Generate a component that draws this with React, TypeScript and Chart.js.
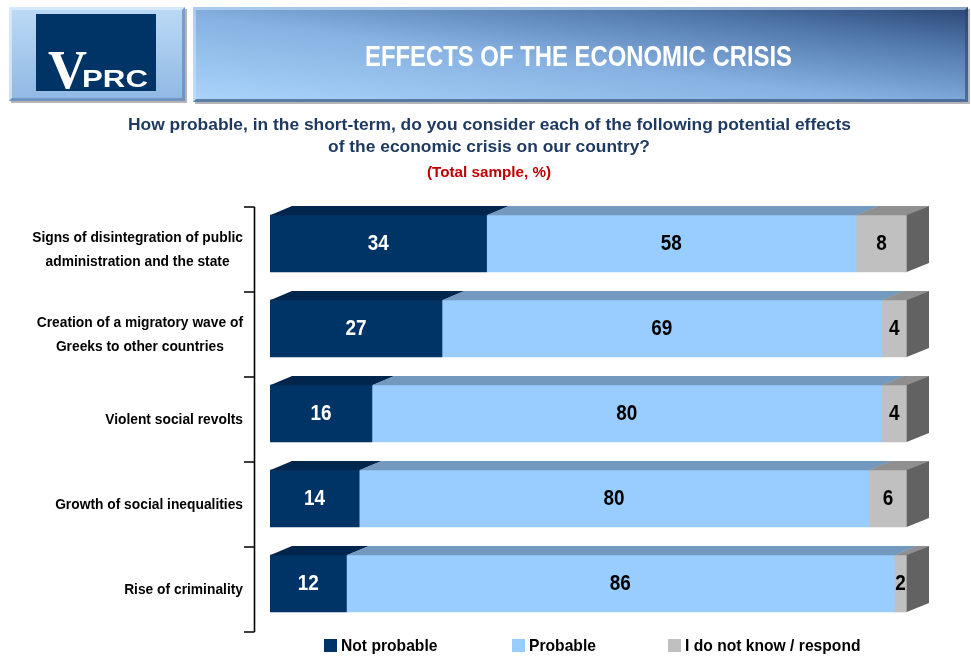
import React, { useEffect, useRef } from 'react';
import { Chart, registerables } from 'chart.js';

Chart.register(...registerables);

// ---------- data ----------
const categories: string[][] = [
  ['Signs of disintegration of public', 'administration and the state'],
  ['Creation of a migratory wave of', 'Greeks to other countries'],
  ['Violent social revolts'],
  ['Growth of social inequalities'],
  ['Rise of criminality'],
];
const notProbable = [34, 27, 16, 14, 12];
const probable = [58, 69, 80, 80, 86];
const dontKnow = [8, 4, 4, 6, 2];
const seriesNames = ['Not probable', 'Probable', 'I do not know / respond'];

const headerTitle = 'EFFECTS OF THE ECONOMIC CRISIS';
const questionLines = [
  'How probable, in the short-term, do you consider each of the following potential effects',
  'of the economic crisis on our country?',
];
const sampleNote = '(Total sample, %)';

// ---------- styles ----------
const frontColors = ['#003366', '#99CCFF', '#C0C0C0'];
const topColors = ['#00264D', '#7399BF', '#8F8F8F'];
const sideColor = '#626262';
const valueColors = ['#FFFFFF', '#000000', '#000000'];
const SANS = "'Liberation Sans', Arial, Helvetica, sans-serif";

const DX = 22;
const DY = 9;
const SHIFT = 6; // axis band shift caused by 3D depth

function narrowWidth(ctx: CanvasRenderingContext2D, text: string, size: number, sq: number) {
  ctx.font = `bold ${size}px ${SANS}`;
  return ctx.measureText(text).width * sq;
}

function drawNarrow(
  ctx: CanvasRenderingContext2D,
  text: string,
  x: number,
  y: number,
  align: 'left' | 'center' | 'right',
  size: number,
  color: string,
  sq: number,
) {
  const w = narrowWidth(ctx, text, size, sq);
  const left = align === 'left' ? x : align === 'center' ? x - w / 2 : x - w;
  ctx.save();
  ctx.translate(left, y);
  ctx.scale(sq, 1);
  ctx.font = `bold ${size}px ${SANS}`;
  ctx.textAlign = 'left';
  ctx.textBaseline = 'middle';
  ctx.fillStyle = color;
  ctx.fillText(text, 0, 0);
  ctx.restore();
}

const threeD = {
  id: 'threeD',
  afterDatasetsDraw(chart: any) {
    const { ctx } = chart;
    const yScale = chart.scales.y;
    const nSeries = chart.data.datasets.length;
    ctx.save();
    // 3D faces
    for (let d = 0; d < nSeries; d++) {
      const meta = chart.getDatasetMeta(d);
      meta.data.forEach((bar: any) => {
        const { x, y, base, height } = bar.getProps(['x', 'y', 'base', 'height'], true);
        const top = y - height / 2;
        const bottom = y + height / 2;
        const x0 = Math.min(x, base);
        const x1 = Math.max(x, base);
        const ext = d < nSeries - 1 ? 0.6 : 0;
        ctx.fillStyle = topColors[d];
        ctx.beginPath();
        ctx.moveTo(x0, top + 0.3);
        ctx.lineTo(x0 + DX, top - DY);
        ctx.lineTo(x1 + DX + ext, top - DY);
        ctx.lineTo(x1 + ext, top + 0.3);
        ctx.closePath();
        ctx.fill();
        if (d === nSeries - 1) {
          ctx.fillStyle = sideColor;
          ctx.beginPath();
          ctx.moveTo(x1 - 0.3, top);
          ctx.lineTo(x1 + DX, top - DY);
          ctx.lineTo(x1 + DX, bottom - DY);
          ctx.lineTo(x1 - 0.3, bottom);
          ctx.closePath();
          ctx.fill();
        }
      });
    }
    // value labels
    for (let d = 0; d < nSeries; d++) {
      const meta = chart.getDatasetMeta(d);
      const ds = chart.data.datasets[d];
      meta.data.forEach((bar: any, i: number) => {
        const { x, y, base } = bar.getProps(['x', 'y', 'base'], true);
        drawNarrow(ctx, String(ds.data[i]), (x + base) / 2, y + 0.5, 'center', 22, valueColors[d], 0.86);
      });
    }
    // axis line with ticks at band boundaries
    const n = chart.data.labels.length;
    const half = (yScale.getPixelForValue(1) - yScale.getPixelForValue(0)) / 2;
    const axisX = 254.5;
    ctx.strokeStyle = '#000000';
    ctx.lineWidth = 1.6;
    ctx.beginPath();
    ctx.moveTo(axisX, yScale.getPixelForValue(0) - half + SHIFT);
    ctx.lineTo(axisX, yScale.getPixelForValue(n - 1) + half + SHIFT);
    for (let i = 0; i <= n; i++) {
      const yy = yScale.getPixelForValue(0) - half + SHIFT + i * 2 * half;
      ctx.moveTo(axisX, yy);
      ctx.lineTo(244, yy);
    }
    ctx.stroke();
    // category labels (right-aligned block, lines centred)
    chart.data.labels.forEach((lab: string[], i: number) => {
      const cy = yScale.getPixelForValue(i) + SHIFT;
      const maxW = Math.max(...lab.map((s) => narrowWidth(ctx, s, 15, 0.92)));
      const cx = 243 - maxW / 2;
      lab.forEach((s, j) => {
        drawNarrow(ctx, s, cx, cy + (j - (lab.length - 1) / 2) * 24, 'center', 15, '#000000', 0.92);
      });
    });
    // legend
    const legendX = [324, 512, 668];
    chart.data.datasets.forEach((ds: any, d: number) => {
      ctx.fillStyle = frontColors[d];
      ctx.fillRect(legendX[d], 639, 13, 13);
      drawNarrow(ctx, ds.label, legendX[d] + 17, 646, 'left', 17, '#000000', 0.92);
    });
    ctx.restore();
  },
};

export default function App() {
  const ref = useRef<HTMLCanvasElement | null>(null);
  useEffect(() => {
    document.body.style.margin = '0';
    document.body.style.overflow = 'hidden';
    const canvas = ref.current;
    if (!canvas) return;
    const seriesData = [notProbable, probable, dontKnow];
    const chart = new Chart(canvas, {
      type: 'bar',
      data: {
        labels: categories as any,
        datasets: seriesNames.map((name, i) => ({
          label: name,
          data: seriesData[i],
          backgroundColor: frontColors[i],
          borderWidth: 0,
          barThickness: 57,
        })),
      },
      options: {
        indexAxis: 'y',
        animation: false,
        responsive: false,
        maintainAspectRatio: false,
        layout: { padding: { left: 270, right: 64, top: 201, bottom: 30 } },
        scales: {
          x: { stacked: true, min: 0, max: 100, display: false },
          y: { stacked: true, display: false },
        },
        plugins: {
          legend: { display: false },
          tooltip: { enabled: false },
          title: { display: false },
        },
      },
      plugins: [threeD as any],
    });
    return () => chart.destroy();
  }, []);

  return (
    <div style={{ position: 'relative', width: 971, height: 656, overflow: 'hidden', background: '#ffffff' }}>
      <canvas ref={ref} width={971} height={656} style={{ position: 'absolute', left: 0, top: 0 }} />
      <svg width={971} height={190} style={{ position: 'absolute', left: 0, top: 0 }}>
        <defs>
          <linearGradient id="logoG" x1="0" y1="0" x2="0" y2="1">
            <stop offset="0" stopColor="#bcdaf6" />
            <stop offset="1" stopColor="#8fb8e3" />
          </linearGradient>
          <linearGradient id="banG" x1="0" y1="1" x2="1" y2="0">
            <stop offset="0" stopColor="#abd5fb" />
            <stop offset="0.45" stopColor="#86b1e1" />
            <stop offset="0.78" stopColor="#5077aa" />
            <stop offset="1" stopColor="#2a4675" />
          </linearGradient>
        </defs>
        {/* logo */}
        <rect x={11} y={9} width={176} height={94} fill="#b5b5b5" />
        <rect x={9} y={7} width={176} height={94} fill="url(#logoG)" />
        <path d="M9 7 H185 L182 10 H12 V98 L9 101 Z" fill="#dcecfb" opacity={0.8} />
        <path d="M185 7 V101 H9 L12 98 H182 V10 Z" fill="#5f86b3" opacity={0.7} />
        <rect x={36} y={14} width={120} height={77} fill="#003366" />
        <text x={48} y={88} fontFamily="'Liberation Serif', 'DejaVu Serif', serif" fontWeight="bold" fontSize={54} fill="#ffffff">V</text>
        <text x={82} y={87} fontFamily={SANS} fontWeight="bold" fontSize={23} fill="#ffffff" textLength={66} lengthAdjust="spacingAndGlyphs">PRC</text>
        {/* banner */}
        <rect x={195} y={9} width={775} height={95} fill="#b5b5b5" />
        <rect x={193} y={7} width={775} height={95} fill="url(#banG)" />
        <path d="M193 7 H968 L965 10 H196 V99 L193 102 Z" fill="#c9e2fa" opacity={0.6} />
        <path d="M968 7 V102 H193 L196 99 H965 V10 Z" fill="#2a4670" opacity={0.6} />
        <text x={578.5} y={66} textAnchor="middle" fontFamily={SANS} fontWeight="bold" fontSize={30} fill="#ffffff" textLength={427} lengthAdjust="spacingAndGlyphs">{headerTitle}</text>
        {/* question */}
        <text x={128} y={130} fontFamily={SANS} fontWeight="bold" fontSize={17} fill="#1F3A60" textLength={723} lengthAdjust="spacingAndGlyphs">{questionLines[0]}</text>
        <text x={328} y={152} fontFamily={SANS} fontWeight="bold" fontSize={17} fill="#1F3A60" textLength={322} lengthAdjust="spacingAndGlyphs">{questionLines[1]}</text>
        <text x={489} y={177} textAnchor="middle" fontFamily={SANS} fontWeight="bold" fontSize={15} fill="#C00000" textLength={124} lengthAdjust="spacingAndGlyphs">{sampleNote}</text>
      </svg>
    </div>
  );
}
